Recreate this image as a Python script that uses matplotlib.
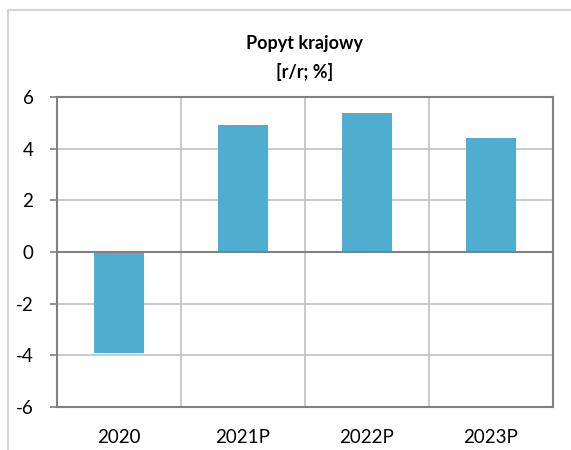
import matplotlib.pyplot as plt
from matplotlib.patches import Rectangle

# dane
years = ["2020", "2021P", "2022P", "2023P"]
popyt = [-3.9, 4.9, 5.4, 4.4]
yticks = [-6, -4, -2, 0, 2, 4, 6]

plt.rcParams['font.family'] = ['Lato', 'DejaVu Sans']

fig = plt.figure(figsize=(5.71, 4.5), dpi=100)
ax = fig.add_axes([57/571, 1-407/450, (553-57)/571, (407-97)/450])

# ramka wykresu
fig.patches.append(Rectangle((8/571, -0.1), 1.2, 1.1-10/450, transform=fig.transFigure,
                             fill=False, edgecolor='#d4d4d4', linewidth=1.5))

x = range(len(years))
ax.bar(x, popyt, width=0.4, color='#4fadcf', zorder=3)

ax.set_xlim(-0.5, len(years)-0.5)
ax.set_ylim(-6, 6)
ax.set_yticks(yticks)
ax.set_yticklabels([str(t) for t in yticks], fontsize=13.5)
ax.set_xticks(list(x))
ax.set_xticklabels(years, fontsize=13.5)
ax.tick_params(axis='x', length=0, pad=16)
ax.tick_params(axis='y', length=5, width=1.2, color='#808080', pad=12)

ax.grid(axis='y', color='#c0c0c0', linewidth=1.2, zorder=0)
for b in [0.5, 1.5, 2.5]:
    ax.axvline(b, color='#c0c0c0', linewidth=1.2, zorder=0)
ax.axhline(0, color='#808080', linewidth=1.5, zorder=4)
for s in ax.spines.values():
    s.set_color('#808080')
    s.set_linewidth(1.5)

fig.text(305/571, 1-44/450, "Popyt krajowy", ha='center', va='center', fontsize=13, fontweight='bold')
fig.text(305/571, 1-72/450, "[r/r; %]", ha='center', va='center', fontsize=13, fontweight='bold')

fig.savefig("out.png", dpi=100)
